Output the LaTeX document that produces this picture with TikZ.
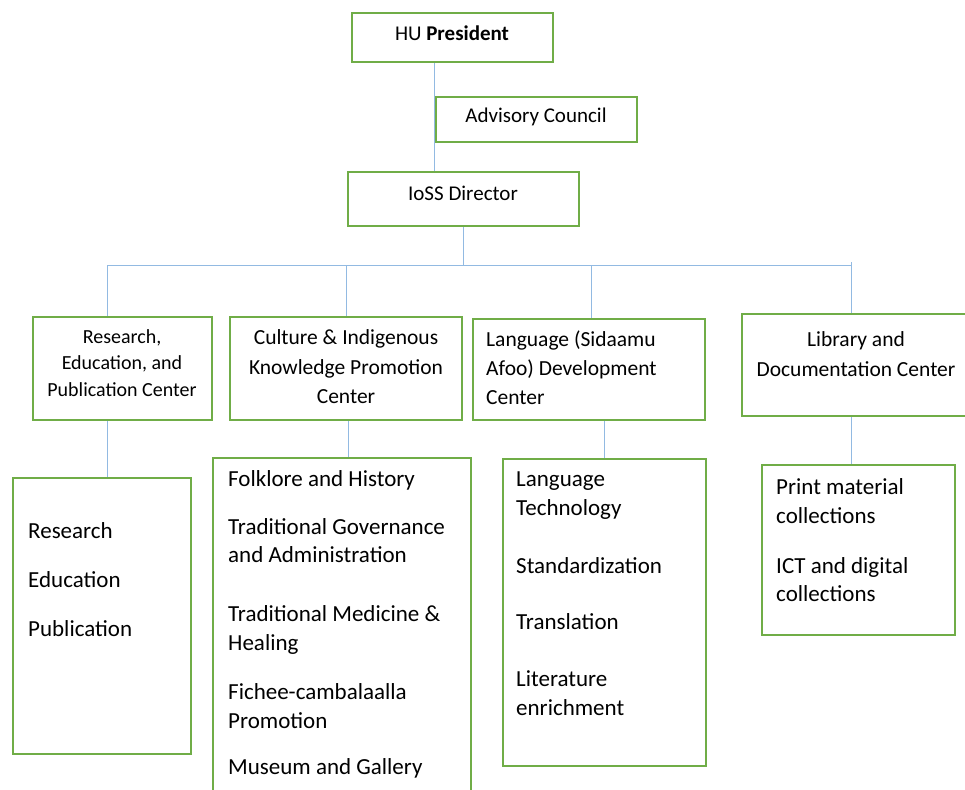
\documentclass[tikz,border=0pt]{standalone}
\usepackage{fontspec}
\setmainfont{Carlito}
\usepackage{tikz}
\usetikzlibrary{calc,positioning}
\definecolor{boxgreen}{RGB}{112,173,71}
\definecolor{linkblue}{RGB}{146,186,226}

\begin{document}
\begin{tikzpicture}[x=1pt,y=-1pt,
		box/.style={draw=boxgreen, line width=2.6pt, rectangle, inner sep=0pt},
		link/.style={draw=linkblue, line width=0.9pt},
		head/.style={inner sep=0pt, align=center, font=\fontsize{21}{26}\selectfont},
		item/.style={inner sep=0pt, anchor=west, align=left, font=\fontsize{23}{28.5}\selectfont}]
					\useasboundingbox (0,0) rectangle (965,789);
					\clip (0,0) rectangle (965,789);

					% top of the chart
					\node[box, minimum width=201pt, minimum height=49pt] (pres) at (452.5,37.5) {};
					\node[box, minimum width=201pt, minimum height=45pt] (adv) at (536.5,119.5) {};
					\node[box, minimum width=231pt, minimum height=54pt] (dir) at (463.5,199) {};
					\node[head] (pres-t) at (452,33) {HU \textbf{President}};
					\node[head] (adv-t) at (536,117) {Advisory Council};
					\node[head] (dir-t) at (463,193) {IoSS Director};

					% centers
					\node[box, minimum width=179pt, minimum height=103pt] (rep) at (122.5,368.5) {};
					\node[box, minimum width=232pt, minimum height=103pt] (cik) at (346,368.5) {};
					\node[box, minimum width=232pt, minimum height=101pt] (lang) at (589,369.5) {};
					\node[box, minimum width=225pt, minimum height=102pt] (lib) at (854.5,365) {};
					\node[head, font=\fontsize{20}{26.5}\selectfont] (rep-t) at (122,363) {Research,\\Education, and\\Publication Center};
					\node[head, font=\fontsize{21.5}{29.5}\selectfont] (cik-t) at (346,367) {Culture \& Indigenous\\Knowledge Promotion\\Center};
					\node[head, anchor=west, align=left, font=\fontsize{21.5}{29}\selectfont] (lang-t) at (486,368) {Language (Sidaamu\\Afoo) Development\\Center};
					\node[head, font=\fontsize{21.5}{30}\selectfont] (lib-t) at (856,354) {Library and\\Documentation Center};

					% units below the centers
					\node[box, minimum width=178pt, minimum height=276pt] (repsub) at (102,616) {};
					\node[box, minimum width=258pt, minimum height=342pt] (ciksub) at (342,629) {};
					\node[box, minimum width=203pt, minimum height=307pt] (langsub) at (604.5,612.5) {};
					\node[box, minimum width=193pt, minimum height=170pt] (libsub) at (858.5,550) {};

					\node[item] (research) at (28,531) {Research};
					\node[item] (education) at (28,580) {Education};
					\node[item] (publication) at (28,629) {Publication};

					\node[item] (folklore) at (228,480) {Folklore and History};
					\node[item] (governance) at (228,540.5) {Traditional Governance\\and Administration};
					\node[item] (medicine) at (228,630) {Traditional Medicine \&\\Healing};
					\node[item] (fichee) at (228,706) {Fichee-cambalaalla\\Promotion};
					\node[item] (museum) at (228,768) {Museum and Gallery};

					\node[item] (langtech) at (516,495.5) {Language\\Technology};
					\node[item] (standard) at (516,566) {Standardization};
					\node[item] (translation) at (516,622) {Translation};
					\node[item] (literature) at (516,693) {Literature\\enrichment};

					\node[item] (print) at (776,501) {Print material\\collections};
					\node[item] (digital) at (776,579.5) {ICT and digital\\collections};

					% president -- director line
					\draw[link] (adv.west |- pres.south) -- (adv.west |- dir.north);

					% horizontal line and vertical lines to the centers
					\coordinate (busL) at (107,265);
					\coordinate (busR) at (851,265);
					\draw[link] (dir.south) -- (dir.south |- busL);
					\draw[link] (busL) -- (busR);
					\draw[link] (busL) -- (busL |- rep.north);
					\draw[link] (cik.north |- busL) -- (cik.north);
					\draw[link] ([xshift=2pt]lang.north |- busL) -- ([xshift=2pt]lang.north);
					\draw[link] ([yshift=3pt]busR) -- (busR |- lib.north);

					% centers -- units
					\draw[link] (busL |- rep.south) -- (busL |- repsub.north);
					\draw[link] ([xshift=2pt]cik.south) -- ([xshift=2pt]cik.south |- ciksub.north);
					\draw[link] (langsub.north |- lang.south) -- (langsub.north);
					\draw[link] (busR |- lib.south) -- (busR |- libsub.north);
				\end{tikzpicture}
\end{document}
